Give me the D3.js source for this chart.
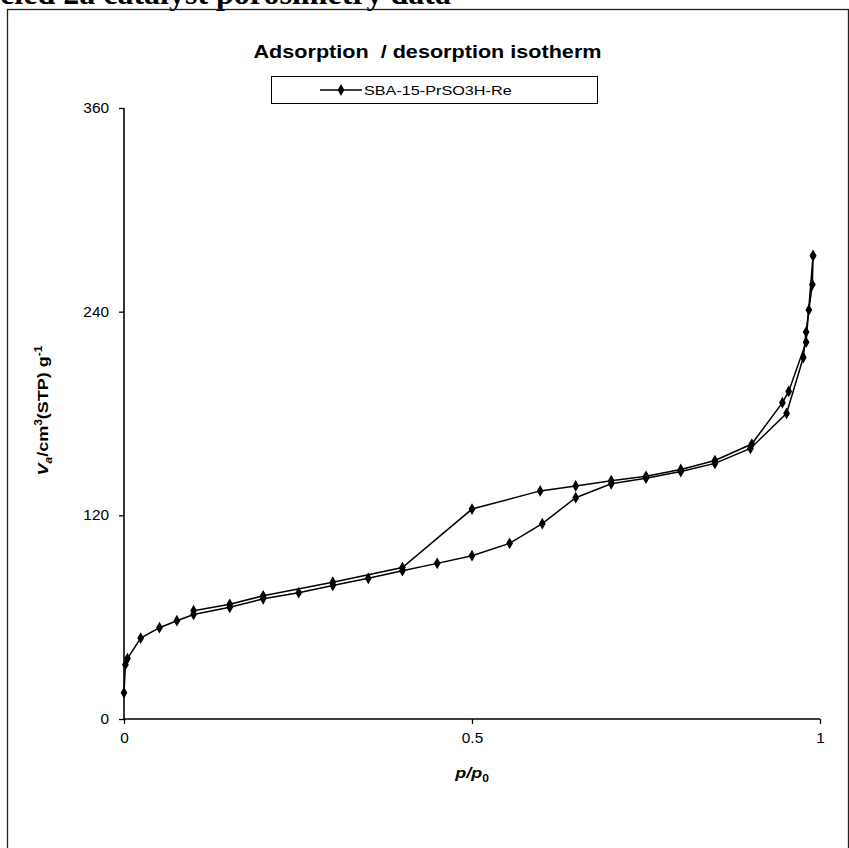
<!DOCTYPE html>
<html>
<head>
<meta charset="utf-8">
<script src="https://cdn.jsdelivr.net/npm/d3@7"></script>
<style>
  html, body { margin: 0; padding: 0; background: #fff; }
  svg { display: block; }
</style>
</head>
<body>
<svg id="chart" width="849" height="848"></svg>
<script>
// Nitrogen isotherm, SBA-15-PrSO3H-Re (recycled catalyst)
// Adsorption branch: relative pressure p/p0 and adsorbed volume (cm3 STP / g)
const adsP = [0.000, 0.002, 0.005, 0.024, 0.051, 0.076, 0.100, 0.152, 0.200, 0.251, 0.300, 0.351, 0.400, 0.450, 0.500, 0.554, 0.601, 0.649, 0.700, 0.750, 0.800, 0.849, 0.900, 0.952, 0.976, 0.980, 0.984, 0.989, 0.990];
const adsV = [15.5, 32.0, 35.6, 47.7, 53.8, 57.9, 61.6, 65.8, 70.8, 74.4, 78.7, 82.9, 87.4, 91.7, 96.2, 103.5, 115.1, 130.4, 138.6, 141.9, 145.8, 150.6, 159.4, 180.1, 213.0, 228.0, 241.0, 256.0, 273.0];
// Desorption branch, from saturation downwards
const desP = [0.990, 0.980, 0.955, 0.946, 0.902, 0.849, 0.800, 0.750, 0.700, 0.649, 0.598, 0.500, 0.400, 0.300, 0.200, 0.152, 0.100];
const desV = [273.0, 222.0, 193.0, 186.4, 162.0, 152.3, 147.0, 143.0, 140.4, 137.3, 134.4, 123.7, 89.2, 80.6, 72.6, 67.6, 63.8];

const xTicks = [0, 0.5, 1];
const yTicks = [0, 120, 240, 360];
const seriesName = "SBA-15-PrSO3H-Re";

const svg = d3.select("#chart");

// widen a text element's glyphs horizontally (the chart uses a stretched sans face)
function widen(sel, k) {
  sel.each(function () {
    const w = this.getComputedTextLength();
    d3.select(this).attr("textLength", w * k).attr("lengthAdjust", "spacingAndGlyphs");
  });
  return sel;
}

// page heading, partly running off the left edge
svg.append("text")
  .attr("x", 451).attr("y", 4)
  .attr("text-anchor", "end")
  .attr("font-family", "'Liberation Serif', 'Times New Roman', serif")
  .attr("font-weight", "bold")
  .attr("font-size", 32)
  .text("Recycled 2a catalyst porosimetry data");

// chart frame
svg.append("rect")
  .attr("x", 7.5).attr("y", 9.5)
  .attr("width", 841).attr("height", 850)
  .attr("fill", "none").attr("stroke", "#222").attr("stroke-width", 1.3);

const x = d3.scaleLinear().domain([0, 1]).range([124, 820]);
const y = d3.scaleLinear().domain([0, 360]).range([719, 108]);

const font = "'Liberation Sans', Arial, sans-serif";
const K = 1.2;

// title
widen(svg.append("text")
  .attr("x", 427.5).attr("y", 58)
  .attr("text-anchor", "middle")
  .attr("font-family", font).attr("font-weight", "bold").attr("font-size", 18)
  .attr("xml:space", "preserve")
  .text("Adsorption  / desorption isotherm"), K);

// axes
const xAxis = d3.axisBottom(x).tickValues(xTicks).tickSize(5).tickPadding(9)
  .tickFormat(d => String(d));
const yAxis = d3.axisLeft(y).tickValues(yTicks).tickSize(5).tickPadding(10)
  .tickFormat(d3.format("d"));

const gx = svg.append("g").attr("transform", `translate(0,${y(0)})`).call(xAxis);
const gy = svg.append("g").attr("transform", `translate(${x(0)},0)`).call(yAxis);
[gx, gy].forEach(g => {
  g.select(".domain").attr("stroke", "#000").attr("stroke-width", 1.6);
  g.selectAll(".tick line").attr("stroke", "#000").attr("stroke-width", 1.3);
  g.selectAll(".tick text").attr("font-family", font).attr("font-size", 14).attr("fill", "#000");
  widen(g.selectAll(".tick text"), 1.1);
});
gx.select(".domain").attr("d", `M${x(0)},0H${x(1)}`);
gy.select(".domain").attr("d", `M0,${y(0)}V${y(360)}`);

// axis titles
const yt = svg.append("text")
  .attr("transform", `translate(48,${(y(0) + y(360)) / 2 - 3}) rotate(-90)`)
  .attr("text-anchor", "middle")
  .attr("font-family", font).attr("font-weight", "bold").attr("font-size", 15);
yt.append("tspan").attr("font-style", "italic").text("V");
yt.append("tspan").attr("font-style", "italic").attr("font-size", 10).attr("dy", 4).text("a");
yt.append("tspan").attr("dy", -4).text("/cm");
yt.append("tspan").attr("font-size", 10).attr("dy", -6).text("3");
yt.append("tspan").attr("dy", 6).text("(STP) g");
yt.append("tspan").attr("font-size", 10).attr("dy", -6).text("-1");
widen(yt, K);

const xt = svg.append("text")
  .attr("x", x(0.5)).attr("y", 778)
  .attr("text-anchor", "middle")
  .attr("font-family", font).attr("font-weight", "bold").attr("font-size", 15);
xt.append("tspan").attr("font-style", "italic").text("p/p");
xt.append("tspan").attr("font-size", 10).attr("dy", 4).text("0");
widen(xt, K);

// data
const line = d3.line().x(d => x(d[0])).y(d => y(d[1]));
const ads = adsP.map((p, i) => [p, adsV[i]]);
const des = desP.map((p, i) => [p, desV[i]]);
const diamond = d3.symbol().type(d3.symbolDiamond).size(40);

[ads, des].forEach(branch => {
  svg.append("path").datum(branch)
    .attr("d", line).attr("fill", "none")
    .attr("stroke", "#000").attr("stroke-width", 1.5);
  svg.append("g").selectAll("path").data(branch).join("path")
    .attr("transform", d => `translate(${x(d[0])},${y(d[1])})`)
    .attr("d", diamond).attr("fill", "#000");
});

// legend
const lg = svg.append("g");
lg.append("rect").attr("x", 271.5).attr("y", 76.5).attr("width", 326).attr("height", 27)
  .attr("fill", "#fff").attr("stroke", "#000").attr("stroke-width", 1);
lg.append("line").attr("x1", 320).attr("x2", 362).attr("y1", 90).attr("y2", 90)
  .attr("stroke", "#000").attr("stroke-width", 1.4);
lg.append("path").attr("transform", "translate(341,90)").attr("d", diamond).attr("fill", "#000");
widen(lg.append("text").attr("x", 364).attr("y", 95)
  .attr("font-family", font).attr("font-size", 13.5).text(seriesName), K);
</script>
</body>
</html>
